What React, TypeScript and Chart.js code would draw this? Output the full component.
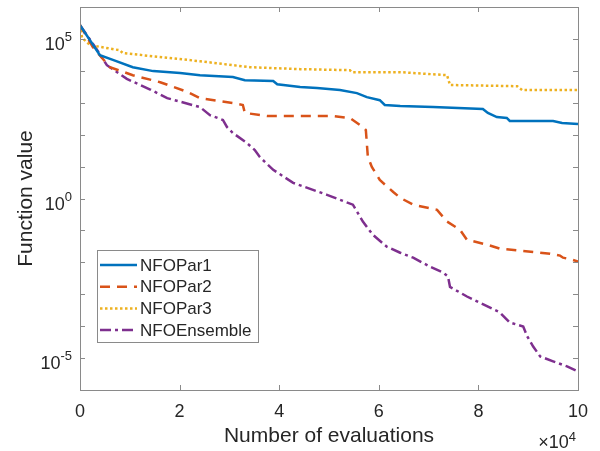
import React, { useEffect, useRef } from "react";
import { Chart, registerables } from "chart.js";
Chart.register(...registerables);

// x in units of 10^4 evaluations
const blueX = [0, 0.4, 0.66, 1.06, 1.47, 2.01, 2.41, 3.07, 3.31, 3.88, 3.96, 4.42, 4.76, 5.22, 5.56, 5.76, 6.02, 6.12, 6.43, 7.09, 8.09, 8.19, 8.37, 8.57, 8.63, 9.5, 9.68, 10];
const blueY = [2.7e5, 3.1e4, 2.2e4, 1.3e4, 9.8e3, 8.5e3, 7.3e3, 6.4e3, 5.1e3, 4.8e3, 3.8e3, 3.1e3, 2.9e3, 2.5e3, 2.0e3, 1.5e3, 1.2e3, 850, 790, 730, 640, 480, 357, 333, 268, 268, 232, 216];

const redX = [0, 0.26, 0.6, 1.06, 1.61, 2.15, 2.41, 3.07, 3.27, 3.31, 3.76, 5.08, 5.42, 5.68, 5.74, 5.78, 5.86, 6.02, 6.29, 6.43, 6.69, 7.17, 7.37, 7.63, 7.77, 8.17, 8.43, 9.44, 9.64, 9.7, 9.88, 10];
const redY = [2.7e5, 5.5e4, 1.3e4, 7.3e3, 4.4e3, 2.2e3, 1.4e3, 980, 850, 480, 384, 384, 333, 174, 140, 20, 9.8, 3.8, 1.6, 1.05, 0.64, 0.44, 0.19, 0.105, 0.051, 0.036, 0.027, 0.0187, 0.0162, 0.014, 0.0121, 0.0105];

const yellowX = [0, 0.04, 0.2, 0.8, 0.86, 2.41, 3.41, 4.42, 5.42, 5.46, 6.43, 7.37, 7.43, 8.78, 8.88, 10];
const yellowY = [2.7e5, 1.1e5, 6.4e4, 4.4e4, 3.6e4, 2.0e4, 1.3e4, 1.13e4, 1.05e4, 9.1e3, 9.1e3, 7.3e3, 3.6e3, 3.3e3, 2.5e3, 2.5e3];

const purpleX = [0, 0.34, 0.54, 0.94, 1.41, 1.75, 2.41, 2.61, 2.87, 2.95, 3.07, 3.35, 3.51, 3.61, 3.88, 4.28, 4.96, 5.48, 5.68, 5.88, 6.16, 6.43, 6.69, 7.03, 7.29, 7.39, 7.43, 7.77, 8.43, 8.63, 8.9, 8.98, 9.1, 9.24, 9.5, 9.78, 10];
const purpleY = [2.7e5, 4.6e4, 1.5e4, 5.6e3, 2.6e3, 1.4e3, 730, 410, 288, 174, 113, 55, 33, 20, 7.9, 3.1, 1.3, 0.64, 0.19, 0.073, 0.031, 0.02, 0.014, 0.0073, 0.0048, 0.0036, 0.0017, 8.5e-4, 2.7e-4, 1.3e-4, 9.8e-5, 4.8e-5, 2.3e-5, 1.13e-5, 7.9e-6, 5.5e-6, 3.8e-6];

const seriesNames = ["NFOPar1", "NFOPar2", "NFOPar3", "NFOEnsemble"];
const xTickValues = [0, 2, 4, 6, 8, 10];
const yTickExponents = [-5, -4, -3, -2, -1, 0, 1, 2, 3, 4, 5];
const yLabelExponents = [5, 0, -5];
const xTitle = "Number of evaluations";
const yTitle = "Function value";

const FONT = "'Liberation Sans', Arial, Helvetica, sans-serif";
const TEXT = "#262626";
const AXIS = "#8a8a8a";

function pts(xs: number[], ys: number[]) {
  return xs.map((x, i) => ({ x, y: ys[i] }));
}

const overlay = {
  id: "matlabAxes",
  afterDraw(chart: any) {
    const ctx = chart.ctx as CanvasRenderingContext2D;
    const a = chart.chartArea;
    const xs = chart.scales.x;
    const ys = chart.scales.y;
    ctx.save();
    // box
    ctx.strokeStyle = AXIS;
    ctx.lineWidth = 1;
    ctx.strokeRect(Math.round(a.left) + 0.5, Math.round(a.top) + 0.5, Math.round(a.right - a.left), Math.round(a.bottom - a.top));
    // ticks
    ctx.beginPath();
    yTickExponents.forEach((e) => {
      const py = Math.round(ys.getPixelForValue(Math.pow(10, e))) + 0.5;
      ctx.moveTo(a.left, py);
      ctx.lineTo(a.left + 5, py);
      ctx.moveTo(a.right, py);
      ctx.lineTo(a.right - 5, py);
    });
    xTickValues.forEach((v) => {
      const px = Math.round(xs.getPixelForValue(v)) + 0.5;
      ctx.moveTo(px, a.bottom);
      ctx.lineTo(px, a.bottom - 5);
      ctx.moveTo(px, a.top);
      ctx.lineTo(px, a.top + 5);
    });
    ctx.stroke();

    ctx.fillStyle = TEXT;
    // y labels
    yLabelExponents.forEach((e) => {
      const py = ys.getPixelForValue(Math.pow(10, e));
      const sup = String(e);
      ctx.font = `13px ${FONT}`;
      const supW = ctx.measureText(sup).width;
      ctx.font = `18px ${FONT}`;
      const baseW = ctx.measureText("10").width;
      const supX = a.left - 8 - supW;
      ctx.textAlign = "left";
      ctx.textBaseline = "alphabetic";
      ctx.fillText("10", supX - baseW, py + 11);
      ctx.font = `13px ${FONT}`;
      ctx.fillText(sup, supX, py + 2);
    });
    // x labels
    ctx.font = `18px ${FONT}`;
    ctx.textAlign = "center";
    ctx.textBaseline = "alphabetic";
    xTickValues.forEach((v) => {
      ctx.fillText(String(v), xs.getPixelForValue(v), a.bottom + 27);
    });
    // exponent x10^4
    {
      ctx.font = `13px ${FONT}`;
      const supW = ctx.measureText("4").width;
      ctx.font = `18px ${FONT}`;
      const baseW = ctx.measureText("×10").width;
      const right = a.right - 2;
      ctx.textAlign = "left";
      ctx.fillText("×10", right - supW - baseW, 448);
      ctx.font = `13px ${FONT}`;
      ctx.fillText("4", right - supW, 441);
    }
    // titles
    ctx.font = `21px ${FONT}`;
    ctx.textAlign = "center";
    ctx.fillText(xTitle, (a.left + a.right) / 2, 442);
    ctx.save();
    ctx.translate(32, (a.top + a.bottom) / 2);
    ctx.rotate(-Math.PI / 2);
    ctx.fillText(yTitle, 0, 0);
    ctx.restore();

    // legend
    const lx = 97, ly = 250, lw = 161, lh = 92;
    ctx.fillStyle = "#ffffff";
    ctx.fillRect(lx, ly, lw, lh);
    ctx.strokeStyle = AXIS;
    ctx.lineWidth = 1;
    ctx.strokeRect(lx + 0.5, ly + 0.5, lw, lh);
    chart.data.datasets.forEach((ds: any, i: number) => {
      const cy = ly + 15 + i * 21.7;
      ctx.save();
      ctx.strokeStyle = ds.borderColor;
      ctx.lineWidth = ds.borderWidth;
      ctx.setLineDash(ds.borderDash || []);
      ctx.beginPath();
      ctx.moveTo(lx + 3, cy);
      ctx.lineTo(lx + 40, cy);
      ctx.stroke();
      ctx.restore();
      ctx.fillStyle = TEXT;
      ctx.font = `17px ${FONT}`;
      ctx.textAlign = "left";
      ctx.textBaseline = "middle";
      ctx.fillText(ds.label, lx + 43, cy + 1);
    });
    ctx.restore();
  },
};

export default function App() {
  const ref = useRef<HTMLCanvasElement | null>(null);
  useEffect(() => {
    if (!ref.current) return;
    const chart = new Chart(ref.current, {
      type: "line",
      data: {
        datasets: [
          { label: seriesNames[0], data: pts(blueX, blueY), borderColor: "#0072BD", borderWidth: 2.5, borderDash: [] },
          { label: seriesNames[1], data: pts(redX, redY), borderColor: "#D95319", borderWidth: 2.5, borderDash: [10, 7] },
          { label: seriesNames[2], data: pts(yellowX, yellowY), borderColor: "#EDB120", borderWidth: 2.5, borderDash: [2.5, 2.5] },
          { label: seriesNames[3], data: pts(purpleX, purpleY), borderColor: "#7E2F8E", borderWidth: 2.5, borderDash: [11, 4, 3, 4] },
        ] as any,
      },
      options: {
        animation: false,
        responsive: false,
        devicePixelRatio: 1,
        parsing: false as any,
        elements: { point: { radius: 0 }, line: { tension: 0, borderCapStyle: "butt" } },
        layout: { padding: { left: 80, right: 22, top: 7, bottom: 61 } },
        plugins: { legend: { display: false }, tooltip: { enabled: false } },
        scales: {
          x: { type: "linear", min: 0, max: 10, display: false },
          y: { type: "logarithmic", min: 1e-6, max: 1e6, display: false },
        },
      },
      plugins: [overlay],
    });
    return () => chart.destroy();
  }, []);
  return (
    <div style={{ position: "absolute", left: 0, top: 0, width: 600, height: 451, background: "#fff" }}>
      <canvas ref={ref} width={600} height={451} />
    </div>
  );
}
